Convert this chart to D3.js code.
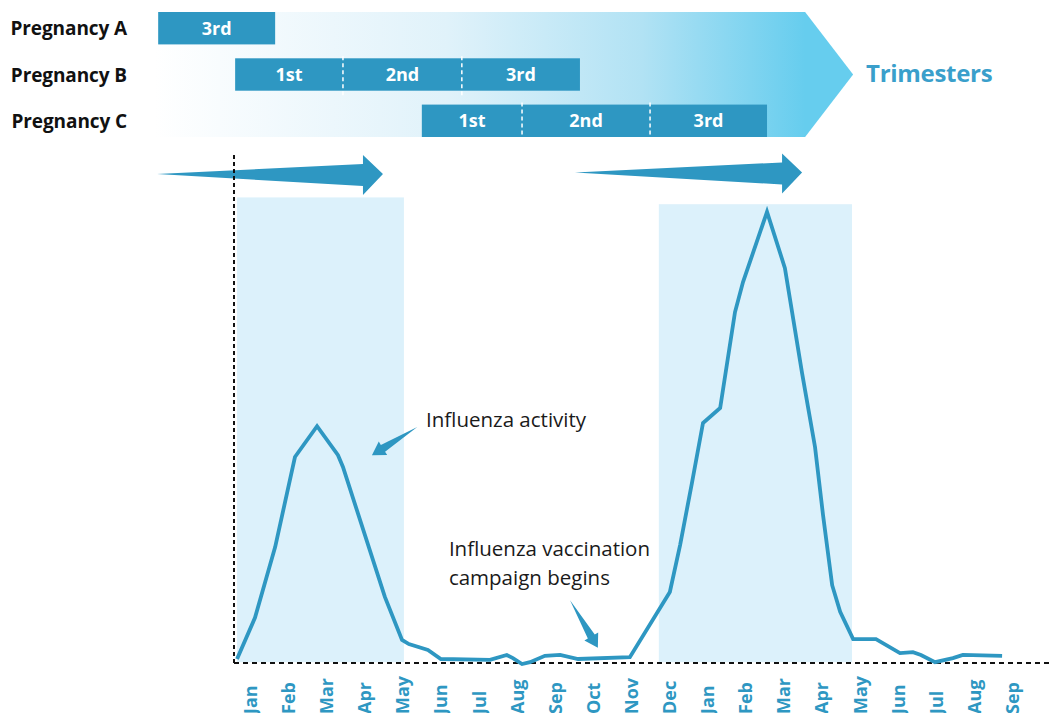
<!DOCTYPE html>
<html><head><meta charset="utf-8">
<script src="https://cdn.jsdelivr.net/npm/d3@7"></script>
<style>body{margin:0;background:#fff}svg{display:block}</style>
</head><body>
<svg id="chart" width="1053" height="713"></svg>
<script>
// ---------- DATA ----------
const monthLabels = ["Jan","Feb","Mar","Apr","May","Jun","Jul","Aug","Sep","Oct","Nov","Dec",
                     "Jan","Feb","Mar","Apr","May","Jun","Jul","Aug","Sep"];
// influenza activity curve: x in months (0 = first Jan), value relative to peak (peak = 100)
const fluMonths = [-0.34,0.13,0.66,1.18,1.76,2.31,2.44,3.54,3.99,4.17,4.67,5.01,6.30,6.74,6.90,7.14,7.35,7.74,8.14,8.61,
                   9.97,11.02,11.29,11.60,11.89,12.34,12.73,12.94,13.20,13.57,14.04,14.49,14.83,15.04,15.28,15.49,15.83,
                   16.43,17.06,17.40,17.61,17.98,18.45,18.71,19.74];
const fluValues = [1.1,10.2,25.8,45.7,52.5,46.1,43.5,14.8,5.3,4.4,3.1,1.1,0.9,2.0,1.3,0,0.4,1.8,2.0,1.1,
                   1.5,15.9,26.3,40.0,53.2,56.5,77.7,84.3,90.7,99.8,87.4,64.2,47.9,32.9,17.4,11.5,5.5,
                   5.5,2.4,2.6,2.0,0.4,1.3,2.0,1.8];
// flu seasons (shaded), in months
const seasonStart = [-0.34, 10.73];
const seasonEnd   = [4.04, 15.80];
const seasonTop   = [103.0, 101.5];
// season arrows (months)
const seasonArrowFrom = [-2.44, 8.53];
const seasonArrowTo   = [3.49, 14.49];
// pregnancies: trimester boundaries in months
const pregnancyNames = ["Pregnancy A","Pregnancy B","Pregnancy C"];
const pregnancyBounds = [[-2.41, 0.66],[-0.39, 2.44, 5.56, 8.66],[4.51, 7.14, 10.50, 13.57]];
const pregnancyTrimesters = [["3rd"],["1st","2nd","3rd"],["1st","2nd","3rd"]];
const trimesterBand = [-2.5, 14.57, 15.83]; // gradient band start, end, tip (months)
const axisStart = -0.42, axisEnd = 21.0;
// annotations (months / values)
const annActivity = {text:["Influenza activity"], tx:4.62, ty:52.3, from:[4.39,52.3], to:[3.2,46.1]};
const annVaccine  = {text:["Influenza vaccination","campaign begins"], tx:5.22, ty:23.8, from:[8.40,14.1], to:[9.13,3.6]};

// ---------- SCALES ----------
const svg = d3.select("#chart");
const x = d3.scaleLinear().domain([0,20]).range([250,1012]);
const y = d3.scaleLinear().domain([0,100]).range([664,211]);
const blue = "#2e97c2";
const font = "'Open Sans', 'Noto Sans', sans-serif";

// gradient
const defs = svg.append("defs");
const grad = defs.append("linearGradient").attr("id","tg")
  .attr("gradientUnits","userSpaceOnUse")
  .attr("x1",x(trimesterBand[0])).attr("x2",x(trimesterBand[1])).attr("y1",0).attr("y2",0);
[[0,"#ffffff"],[0.1,"#f8fcfe"],[0.45,"#e0f2fa"],[0.75,"#b1e2f4"],[1,"#66cdee"]].forEach(s=>
  grad.append("stop").attr("offset",s[0]).attr("stop-color",s[1]));

// ---------- TOP: trimesters ----------
const rowY = d3.scaleBand().domain(pregnancyNames).range([12,137]).paddingInner(0.3);
const bx0 = x(trimesterBand[0]), bx1 = x(trimesterBand[1]), btip = x(trimesterBand[2]);
svg.append("path")
  .attr("d",`M${bx0},12 L${bx1},12 L${btip},74.5 L${bx1},137 L${bx0},137 Z`)
  .attr("fill","url(#tg)");

svg.append("text").attr("x",x(trimesterBand[2])+13).attr("y",82)
  .attr("font-family",font).attr("font-weight",700).attr("font-size",24)
  .attr("fill","#3a9fcb").attr("letter-spacing","-0.3").text("Trimesters");

pregnancyNames.forEach((name,i)=>{
  const y0 = rowY(name), h = rowY.bandwidth();
  svg.append("text").attr("x",127).attr("y",y0+h/2+7).attr("text-anchor","end")
    .attr("font-family",font).attr("font-weight",700).attr("font-size",19)
    .attr("letter-spacing","-0.1").attr("fill","#111").text(name);
  const b = pregnancyBounds[i];
  const g = svg.append("g");
  g.append("rect").attr("x",x(b[0])).attr("y",y0).attr("width",x(b[b.length-1])-x(b[0])).attr("height",h)
    .attr("fill",blue);
  pregnancyTrimesters[i].forEach((t,j)=>{
    g.append("text").attr("x",(x(b[j])+x(b[j+1]))/2).attr("y",y0+h/2+6.5)
      .attr("text-anchor","middle").attr("font-family",font).attr("font-weight",700)
      .attr("font-size",18).attr("fill","#fff").text(t);
    if(j>0){
      g.append("line").attr("x1",x(b[j])).attr("x2",x(b[j])).attr("y1",y0-2).attr("y2",y0+h+6)
        .attr("stroke","#fff").attr("stroke-width",1.5).attr("stroke-dasharray","4,3");
    }
  });
});

// ---------- seasons ----------
seasonStart.forEach((s,i)=>{
  svg.append("rect").attr("x",x(s)).attr("y",y(seasonTop[i]))
    .attr("width",x(seasonEnd[i])-x(s)).attr("height",y(0.4)-y(seasonTop[i]))
    .attr("fill","#dcf1fb");
});

// season arrows
function bigArrow(x0,x1,cy){
  const hl = 20;
  return `M${x0},${cy} L${x1-hl},${cy-10} L${x1-hl},${cy-19} L${x1},${cy} L${x1-hl},${cy+21} L${x1-hl},${cy+12} Z`;
}
seasonArrowFrom.forEach((f,i)=>{
  const cy = i===0?174:172.5;
  svg.append("path").attr("d",bigArrow(x(f),x(seasonArrowTo[i]),cy)).attr("fill",blue);
});

// axes lines (dotted)
svg.append("line").attr("x1",x(axisStart)).attr("x2",x(axisStart)).attr("y1",155).attr("y2",663)
  .attr("stroke","#111").attr("stroke-width",2).attr("stroke-dasharray","4,3");
svg.append("line").attr("x1",x(axisStart)).attr("x2",x(axisEnd)).attr("y1",663).attr("y2",663)
  .attr("stroke","#111").attr("stroke-width",2).attr("stroke-dasharray","5,4");

// flu line
const pts = fluMonths.map((m,i)=>[m,fluValues[i]]);
svg.append("path").datum(pts)
  .attr("d",d3.line().x(d=>x(d[0])).y(d=>y(d[1])))
  .attr("fill","none").attr("stroke",blue).attr("stroke-width",3.8).attr("stroke-linejoin","miter");

// x axis labels
const axis = d3.axisBottom(x).tickValues(d3.range(monthLabels.length))
  .tickFormat(i=>monthLabels[i]).tickSize(0);
const ag = svg.append("g").attr("transform","translate(0,714)").call(axis);
ag.select(".domain").remove();
ag.selectAll("text")
  .attr("transform","rotate(-90)").attr("x",0).attr("y",0).attr("dy","0.36em")
  .attr("text-anchor","start").attr("font-family",font).attr("font-weight",700)
  .attr("font-size",18).attr("fill",blue);

// annotations
function pointer(from,to,hl,hw,sw){
  const [x0,y0]=from,[x1,y1]=to;
  const dx=x1-x0, dy=y1-y0, L=Math.hypot(dx,dy), ux=dx/L, uy=dy/L, nx=-uy, ny=ux;
  const bx=x1-ux*hl, by=y1-uy*hl;
  return `M${x0},${y0} L${bx+nx*sw},${by+ny*sw} L${bx+nx*hw},${by+ny*hw} L${x1},${y1} L${bx-nx*hw},${by-ny*hw} L${bx-nx*sw},${by-ny*sw} Z`;
}
[annActivity, annVaccine].forEach((a,k)=>{
  const t = svg.append("text").attr("font-family",font).attr("font-size",20.5).attr("fill","#1a1a1a")
    .attr("letter-spacing","0");
  a.text.forEach((line,j)=>t.append("tspan").attr("x",x(a.tx)).attr("y",y(a.ty)+j*28.5).text(line));
  svg.append("path").attr("d",pointer([x(a.from[0]),y(a.from[1])],[x(a.to[0]),y(a.to[1])],13,8,4))
    .attr("fill",blue);
});
</script>
</body></html>
